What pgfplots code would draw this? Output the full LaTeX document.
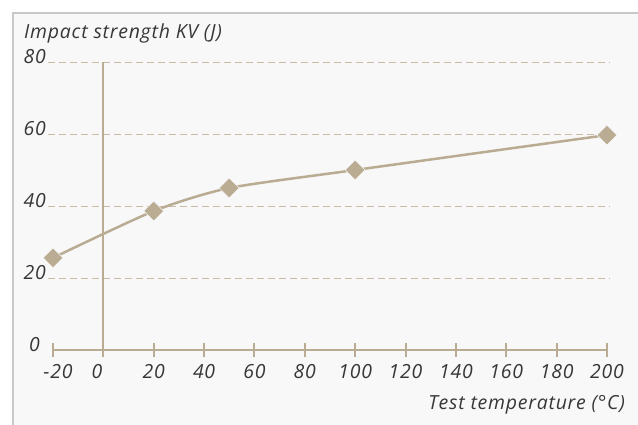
\documentclass[border=0pt]{standalone}
\usepackage{fontspec}
\setmainfont[LetterSpace=4]{Open Sans}
\usepackage{pgfplots}
\pgfplotsset{compat=1.18}
\definecolor{tan}{RGB}{185,172,147}
\definecolor{gridtan}{RGB}{200,188,165}
\definecolor{txt}{RGB}{55,55,55}
\definecolor{panel}{RGB}{248,248,248}
\definecolor{frame}{RGB}{200,200,200}
\begin{document}
\begin{tikzpicture}
\fill[white] (0,0) rectangle (638bp,425bp);
\fill[panel] (13bp,0) rectangle (638bp,412bp);
\draw[frame, line width=1.5bp] (13bp,0) -- (13bp,412bp) -- (638bp,412bp);
\begin{axis}[
  at={(48bp,75bp)}, anchor=south west,
  scale only axis, width=562bp, height=288bp,
  xmin=-21.99, xmax=201.2, ymin=0, ymax=80,
  axis line style={draw=none},
  font=\fontsize{19.5}{22}\selectfont\itshape\color{txt},
  xtick={-20,0,20,40,60,80,100,120,140,160,180,200},
  xticklabels={\makebox[0pt]{\hspace{10bp}-20},\makebox[0pt][r]{0\hspace{1bp}},20,40,60,80,100,120,140,160,180,200},
  xtick pos=bottom, ytick pos=left,
  tick align=center, major tick length=14bp,
  xtick style={draw=tan, line width=2bp},
  ytick style={draw=none},
  ytick={20,40,60,80}, yticklabels={20,40,60,80},
  extra y ticks={0}, extra y tick labels={0},
  extra y tick style={grid=none, yticklabel style={xshift=-6bp}},
  ymajorgrids,
  major grid style={draw=gridtan, line width=0.9bp, dash pattern=on 7bp off 4bp},
  yticklabel style={anchor=base east, inner sep=0pt, xshift=5bp, yshift=-1bp},
  xticklabel style={anchor=base, inner sep=0pt, yshift=-21bp},
  xlabel={Test temperature (°C)},
  ylabel={Impact strength KV (J)},
  xlabel style={at={(axis description cs:1.0267,-0.2083)}, anchor=base east, inner sep=0pt},
  ylabel style={at={(axis description cs:-0.0427,1.0833)}, anchor=base west, rotate=-90, inner sep=0pt},
  clip=false,
]
\draw[tan, line width=2.5bp] (axis cs:-20,0) -- (axis cs:200,0);
\draw[tan, line width=2bp] (axis cs:0,0) -- (axis cs:0,80);
\addplot[tan, line width=2.5bp, smooth, tension=0.4, mark=square*, mark size=7bp,
  mark options={rotate=45, fill=tan, draw=panel, line width=0.5bp}]
  coordinates {(-20,25.6) (20,38.6) (50,45) (100,50) (200,59.7)};
\end{axis}
\pgfresetboundingbox
\path[use as bounding box] (0,0) rectangle (638bp,425bp);
\end{tikzpicture}
\end{document}
